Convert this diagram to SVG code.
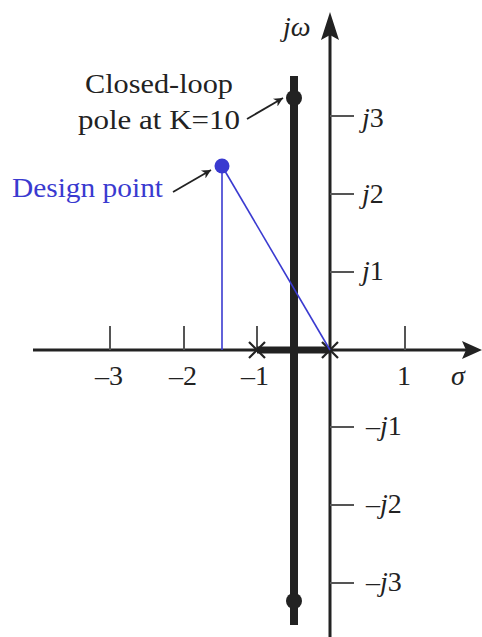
<svg xmlns="http://www.w3.org/2000/svg" width="482" height="637" viewBox="0 0 482 637">
<defs>
<marker id="ah" viewBox="0 0 10 10" refX="10" refY="5" markerWidth="13" markerHeight="9" orient="auto" markerUnits="userSpaceOnUse">
<path d="M0,0 L10,5 L0,10 L3,5 Z" fill="#222"/>
</marker>
<style>
.t{font-family:"Liberation Serif","Times New Roman",serif;font-size:28px;fill:#222}
.i{font-style:italic}
.ax{stroke:#222;stroke-width:3;fill:none}
.tk{stroke:#555;stroke-width:2}
.blue{stroke:#3a3ad0;stroke-width:1.6;fill:none}
.lead{stroke:#222;stroke-width:1.8;fill:none}
</style>
</defs>
<rect width="482" height="637" fill="#fff"/>
<g id="axes">
<line class="ax" x1="33" y1="350" x2="466" y2="350"/>
<path d="M482,350 L462,341 L466,350 L462,359 Z" fill="#222"/>
<line class="ax" x1="330" y1="637" x2="330" y2="34"/>
<path d="M330,12 L321,40 L330,35 L339,40 Z" fill="#222"/>
<text class="t i" x="283" y="36">jω</text>
</g>
<g id="ticks">
<line class="tk" x1="110" y1="326" x2="110" y2="350"/>
<line class="tk" x1="184" y1="326" x2="184" y2="350"/>
<line class="tk" x1="257" y1="326" x2="257" y2="350"/>
<line class="tk" x1="405" y1="326" x2="405" y2="350" stroke="#999"/>
<line class="tk" x1="330" y1="116" x2="354" y2="116"/>
<line class="tk" x1="330" y1="194" x2="354" y2="194"/>
<line class="tk" x1="330" y1="272" x2="354" y2="272"/>
<line class="tk" x1="330" y1="427" x2="354" y2="427"/>
<line class="tk" x1="330" y1="505" x2="354" y2="505"/>
<line class="tk" x1="330" y1="583" x2="354" y2="583"/>
<text class="t" x="109" y="385" text-anchor="middle">–3</text>
<text class="t" x="183" y="385" text-anchor="middle">–2</text>
<text class="t" x="255" y="385" text-anchor="middle">–1</text>
<text class="t" x="404" y="385" text-anchor="middle">1</text>
<text class="t i" x="451" y="385">σ</text>
<text class="t" x="362" y="127"><tspan class="i">j</tspan>3</text>
<text class="t" x="362" y="203"><tspan class="i">j</tspan>2</text>
<text class="t" x="362" y="280"><tspan class="i">j</tspan>1</text>
<text class="t" x="366" y="435">–<tspan class="i">j</tspan>1</text>
<text class="t" x="366" y="513">–<tspan class="i">j</tspan>2</text>
<text class="t" x="366" y="591">–<tspan class="i">j</tspan>3</text>
</g>
<g id="root-locus">
<line x1="294" y1="76" x2="294" y2="625" stroke="#222" stroke-width="8"/>
<line x1="257" y1="350" x2="330" y2="350" stroke="#222" stroke-width="7"/>
<circle cx="294" cy="98" r="8" fill="#222"/>
<circle cx="294" cy="601" r="8" fill="#222"/>
</g>
<g id="poles" stroke="#222" stroke-width="2.2">
<path d="M249,342 L265,358 M249,358 L265,342"/>
<path d="M322,342 L338,358 M322,358 L338,342"/>
</g>
<g id="design">
<line class="blue" x1="222" y1="166" x2="222" y2="350"/>
<line class="blue" x1="222" y1="166" x2="330" y2="350"/>
<circle cx="222" cy="166" r="7.5" fill="#3a3ad0"/>
</g>
<g id="labels">
<text class="t" x="85" y="93" textLength="148" lengthAdjust="spacingAndGlyphs">Closed-loop</text>
<text class="t" x="78" y="129" textLength="162" lengthAdjust="spacingAndGlyphs">pole at K=10</text>
<text class="t" x="12" y="197" textLength="151" lengthAdjust="spacingAndGlyphs" style="fill:#3a3ad0">Design point</text>
</g>
<g id="connectors">
<line class="lead" x1="247" y1="119" x2="283" y2="98" marker-end="url(#ah)"/>
<line class="lead" x1="173" y1="192" x2="211" y2="170" marker-end="url(#ah)"/>
</g>
</svg>
